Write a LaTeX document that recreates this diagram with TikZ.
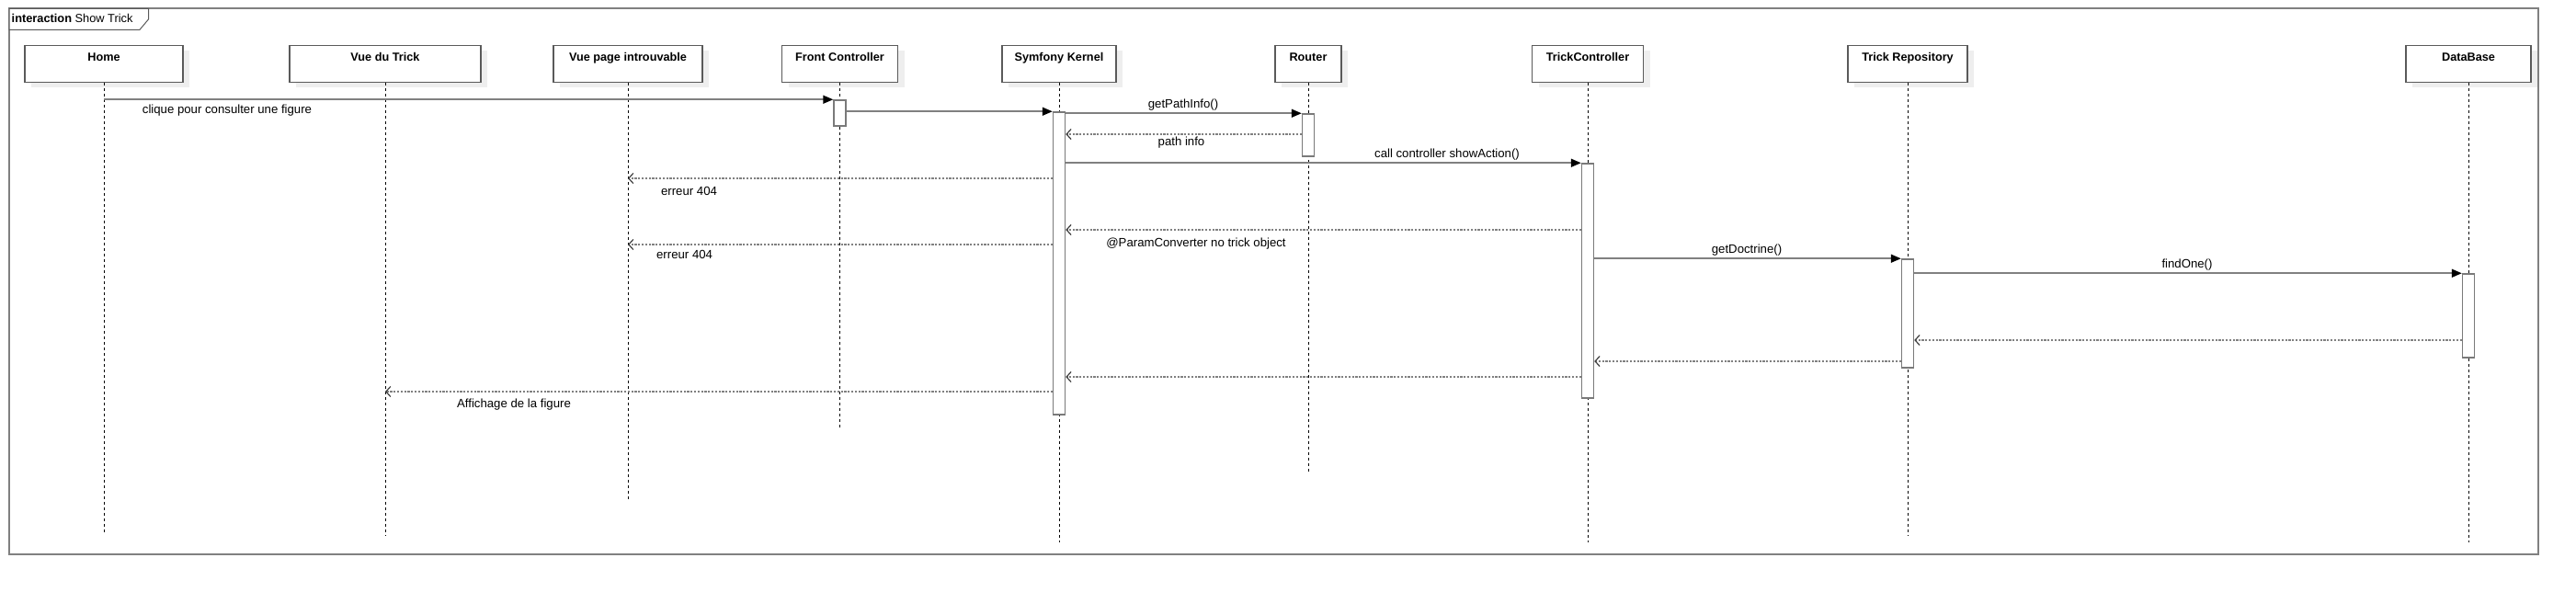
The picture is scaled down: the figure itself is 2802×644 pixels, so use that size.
\documentclass[tikz,border=0pt]{standalone}
\usepackage{fontspec}
\setmainfont{Liberation Sans}
\usetikzlibrary{arrows.meta}
\definecolor{framegray}{HTML}{808080}
\definecolor{boxgray}{HTML}{5A5A5A}
\definecolor{shadowgray}{HTML}{EEEEEE}
\definecolor{bargray}{HTML}{7A7A7A}
\definecolor{linegray}{HTML}{808080}
\definecolor{arrowgray}{HTML}{404040}
\begin{document}
\begin{tikzpicture}[x=1pt,y=-1pt,
  frame/.style={draw=framegray,line width=2pt},
  tab/.style={draw=boxgray,line width=1pt,fill=white},
  part/.style={draw=boxgray,line width=1.3pt,fill=white,minimum height=40pt,inner sep=0pt},
  shadowbox/.style={fill=shadowgray,draw=none,minimum height=40pt,inner sep=0pt},
  ptext/.style={font=\fontsize{12.7}{14}\selectfont\bfseries,anchor=base,inner sep=0pt},
  mtext/.style={font=\fontsize{13.2}{15}\selectfont,inner sep=0pt},
  life/.style={draw=black,line width=0.9pt,dash pattern=on 3pt off 3pt},
  bar/.style={draw=bargray,fill=white,line width=1.5pt,minimum width=13pt,inner sep=0pt},
  call/.style={draw=linegray,line width=1.5pt,-{Triangle[length=11pt,width=9pt,color=black]}},
  ret/.style={draw=linegray,line width=1.4pt,dash pattern=on 2.2pt off 1.6pt,-{Straight Barb[length=5pt,width=11pt,color=arrowgray,line width=1.2pt]}}
]
\useasboundingbox (0,0) rectangle (2802,644);
% frame
\draw[frame] (10,9.5) rectangle (2761,603);
\draw[tab] (10,9.5) -- (161.5,9.5) -- (161.5,21) -- (152,32.3) -- (10,32.3) -- cycle;
\node[anchor=base west,inner sep=0pt,font=\fontsize{12.8}{14}\selectfont] (title) at (12.5,24.5) {\textbf{interaction} Show Trick};
% participants
\foreach \n/\x/\w/\t/\e in {home/113/172/Home/580,
    vtrick/419/208/Vue du Trick/582,
    vpage/683/162/Vue page introuvable/545,
    front/913.5/126/Front Controller/466,
    kernel/1152/124/Symfony Kernel/590,
    router/1423/72/Router/515,
    tctrl/1727/121/TrickController/590,
    trepo/2075/130/Trick Repository/582,
    dbase/2685/136/DataBase/590}{
  \node[shadowbox,minimum width=\w pt] (\n-sh) at (\x+7,69.3+6) {};
  \node[part,minimum width=\w pt] (\n) at (\x,69.3) {};
  \node[ptext] (\n-txt) at (\x,67) {\t};
  \coordinate (\n-end) at (\x,\e);
  \draw[life] (\n.south) -- (\n-end);
}
% activation bars
\node[bar,minimum height=28pt] (fcbar) at (913.5,123) {};
\node[bar,minimum height=329pt] (sybar) at (1152,286.5) {};
\node[bar,minimum height=46pt] (robar) at (1423,147) {};
\node[bar,minimum height=255pt] (tcbar) at (1727,305.5) {};
\node[bar,minimum height=118pt] (trbar) at (2075,341) {};
\node[bar,minimum height=91pt] (dbbar) at (2685,343.5) {};
% message heights
\coordinate (m4) at (0,146);
\coordinate (m6) at (0,194);
\coordinate (m7) at (0,250);
\coordinate (m8) at (0,266);
\coordinate (m11) at (0,370);
\coordinate (m12) at (0,393);
\coordinate (m13) at (0,410);
\coordinate (m14) at (0,426);
% messages
\draw[call] (home |- fcbar.north) -- (fcbar.north west);
\draw[call] (fcbar.east |- sybar.north) -- (sybar.north west);
\draw[call] (sybar.east |- robar.north) -- (robar.north west);
\draw[ret] (robar.west |- m4) -- (sybar.east |- m4);
\draw[call] (sybar.east |- tcbar.north) -- (tcbar.north west);
\draw[ret] (sybar.west |- m6) -- (vpage |- m6);
\draw[ret] (tcbar.west |- m7) -- (sybar.east |- m7);
\draw[ret] (sybar.west |- m8) -- (vpage |- m8);
\draw[call] (tcbar.east |- trbar.north) -- (trbar.north west);
\draw[call] (trbar.east |- dbbar.north) -- (dbbar.north west);
\draw[ret] (dbbar.west |- m11) -- (trbar.east |- m11);
\draw[ret] (trbar.west |- m12) -- (tcbar.east |- m12);
\draw[ret] (tcbar.west |- m13) -- (sybar.east |- m13);
\draw[ret] (sybar.west |- m14) -- (vtrick |- m14);
% labels
\node[mtext] (l1) at (247,120) {clique pour consulter une figure};
\node[mtext] (l3) at (1287,114) {getPathInfo()};
\node[mtext] (l4) at (1285,155.5) {path info};
\node[mtext] (l5) at (1574,168) {call controller showAction()};
\node[mtext] (l6) at (749.5,208) {erreur 404};
\node[mtext] (l7) at (1301,265) {@ParamConverter no trick object};
\node[mtext] (l8) at (744.6,277) {erreur 404};
\node[mtext] (l9) at (1900,272) {getDoctrine()};
\node[mtext] (l10) at (2379,288) {findOne()};
\node[mtext] (l14) at (559,440) {Affichage de la figure};
\end{tikzpicture}
\end{document}
